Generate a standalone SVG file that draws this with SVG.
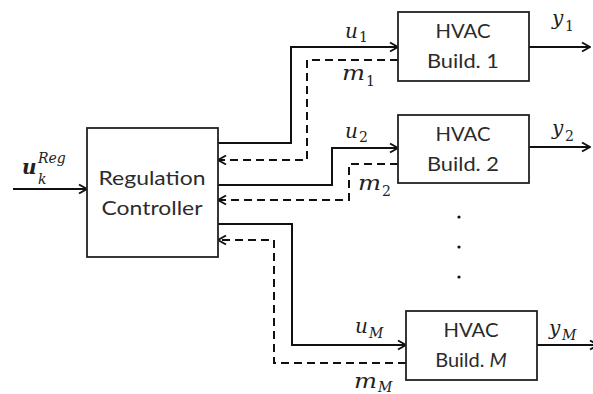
<svg xmlns="http://www.w3.org/2000/svg" width="593" height="394" viewBox="0 0 593 394">
<style>
.box{fill:#fff;stroke:#222;stroke-width:1.8}
.t{font-family:Lato,"Open Sans",sans-serif;font-size:20px;fill:#2b2b2b;text-anchor:middle}
.m{font-family:"DejaVu Serif","Liberation Serif",serif;font-style:italic;font-size:20px;fill:#222}
.s{font-family:"DejaVu Serif","Liberation Serif",serif;font-style:italic;font-size:14px;fill:#222}
.sn{font-family:"DejaVu Serif","Liberation Serif",serif;font-size:14px;fill:#222}
.w{fill:none;stroke:#111;stroke-width:2}
.d{fill:none;stroke:#111;stroke-width:2;stroke-dasharray:8,5}
</style>
<defs>
<marker id="a" viewBox="0 0 12 12" refX="11" refY="6" markerWidth="12" markerHeight="12" markerUnits="userSpaceOnUse" orient="auto">
<polyline points="3,1.5 11,6 3,10.5" fill="none" stroke="#111" stroke-width="2"/>
</marker>
</defs>
<g id="connectors">
<line class="w" x1="13" y1="189" x2="87" y2="189" marker-end="url(#a)"/>
<polyline class="w" points="218,143 291,143 291,47 398,47" marker-end="url(#a)"/>
<polyline class="d" points="398,60 307,60 307,160 218,160" marker-end="url(#a)"/>
<polyline class="w" points="218,185 332,185 332,148 398,148" marker-end="url(#a)"/>
<polyline class="d" points="398,164 349,164 349,200 218,200" marker-end="url(#a)"/>
<polyline class="w" points="218,224 292,224 292,345 406,345" marker-end="url(#a)"/>
<polyline class="d" points="406,363 274,363 274,240 218,240" marker-end="url(#a)"/>
<line class="w" x1="529" y1="47" x2="590" y2="47" marker-end="url(#a)"/>
<line class="w" x1="529" y1="147" x2="590" y2="147" marker-end="url(#a)"/>
<line class="w" x1="537" y1="345" x2="598" y2="345" marker-end="url(#a)"/>
</g>
<g id="controller">
<rect class="box" x="87" y="128" width="131" height="129"/>
<text class="t" x="152" y="185" textLength="107" lengthAdjust="spacingAndGlyphs">Regulation</text>
<text class="t" x="152" y="215" textLength="101" lengthAdjust="spacingAndGlyphs">Controller</text>
</g>
<g id="hvac1">
<rect class="box" x="398" y="12" width="131" height="69"/>
<text class="t" x="463" y="38" textLength="55" lengthAdjust="spacingAndGlyphs">HVAC</text>
<text class="t" x="463" y="68" textLength="72" lengthAdjust="spacingAndGlyphs">Build. 1</text>
</g>
<g id="hvac2">
<rect class="box" x="398" y="115" width="131" height="68"/>
<text class="t" x="463" y="141" textLength="55" lengthAdjust="spacingAndGlyphs">HVAC</text>
<text class="t" x="463" y="171" textLength="72" lengthAdjust="spacingAndGlyphs">Build. 2</text>
</g>
<g id="hvacM">
<rect class="box" x="406" y="311" width="131" height="69"/>
<text class="t" x="471" y="337" textLength="55" lengthAdjust="spacingAndGlyphs">HVAC</text>
<text class="t" x="471" y="367">Build. <tspan font-style="italic">M</tspan></text>
</g>
<g id="dots" fill="#111">
<circle cx="459" cy="217" r="1.6"/>
<circle cx="459" cy="247" r="1.6"/>
<circle cx="459" cy="277" r="1.6"/>
</g>
<g id="labels">
<text class="m" x="22" y="174" font-weight="bold">u</text><text class="s" x="38" y="163" font-size="15">Reg</text><text class="s" x="38" y="184" font-size="15">k</text>
<text class="m" x="345" y="38">u</text><text class="sn" x="359" y="42">1</text>
<text class="m" x="342" y="80" textLength="23" lengthAdjust="spacingAndGlyphs">m</text><text class="sn" x="366" y="86">1</text>
<text class="m" x="345" y="138">u</text><text class="sn" x="359" y="142">2</text>
<text class="m" x="358" y="190" textLength="23" lengthAdjust="spacingAndGlyphs">m</text><text class="sn" x="382" y="196">2</text>
<text class="m" x="552" y="25">y</text><text class="sn" x="565" y="31">1</text>
<text class="m" x="552" y="135">y</text><text class="sn" x="565" y="141">2</text>
<text class="m" x="355" y="333">u</text><text class="s" x="369" y="338">M</text>
<text class="m" x="354" y="388" textLength="23" lengthAdjust="spacingAndGlyphs">m</text><text class="s" x="378" y="392">M</text>
<text class="m" x="549" y="335">y</text><text class="s" x="562" y="340">M</text>
</g>
</svg>
